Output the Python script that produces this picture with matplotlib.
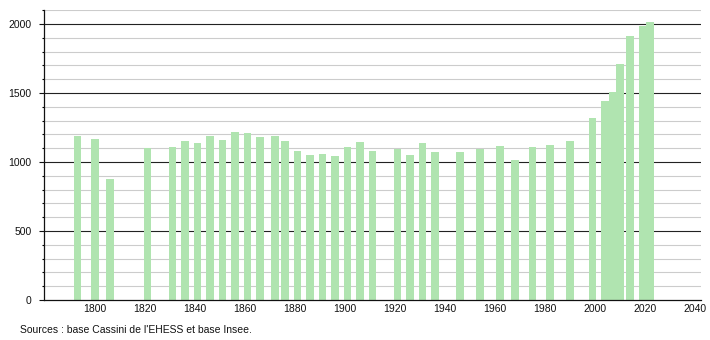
import matplotlib
matplotlib.use("Agg")
import matplotlib.pyplot as plt
import numpy as np

years = [1793, 1800, 1806, 1821, 1831, 1836, 1841, 1846, 1851, 1856, 1861, 1866,
         1872, 1876, 1881, 1886, 1891, 1896, 1901, 1906, 1911, 1921, 1926, 1931,
         1936, 1946, 1954, 1962, 1968, 1975, 1982, 1990, 1999, 2004, 2007, 2010,
         2014, 2019, 2022]
population = [1190, 1167, 877, 1099, 1109, 1152, 1135, 1190, 1162, 1215, 1210, 1184,
              1190, 1152, 1080, 1051, 1058, 1043, 1109, 1143, 1080, 1097, 1051, 1138,
              1072, 1072, 1094, 1116, 1014, 1109, 1126, 1152, 1322, 1443, 1511, 1712,
              1917, 1983, 2014]
x_ticks = [1800, 1820, 1840, 1860, 1880, 1900, 1920, 1940, 1960, 1980, 2000, 2020, 2040]
y_major = [0, 500, 1000, 1500, 2000]
source_text = "Sources : base Cassini de l'EHESS et base Insee."

plt.rcParams['font.family'] = ['Liberation Sans', 'DejaVu Sans']

W, H = 710, 340
fig = plt.figure(figsize=(W / 100, H / 100), dpi=100)
ax = fig.add_axes([44 / W, 1 - 300 / H, (701 - 44) / W, (300 - 10) / H])

ax.set_xlim(1779.6, 2042.4)
ax.set_ylim(0, 2102)

# grid lines
for v in range(100, 2101, 100):
    if v % 500 == 0:
        ax.axhline(v, color='#222222', lw=0.8, zorder=1)
    else:
        ax.axhline(v, color='#cccccc', lw=0.8, zorder=1)

ax.bar(years, population, width=3.0, color='#b0e4b0', edgecolor='none', zorder=2)

ax.set_xticks(x_ticks)
ax.set_xticklabels([str(t) for t in x_ticks])
ax.set_yticks(y_major)
ax.set_yticklabels([str(t) for t in y_major])
ax.set_yticks(np.arange(0, 2101, 100), minor=True)

ax.tick_params(axis='x', length=0, pad=3, labelsize=7.5, colors='#111111')
ax.tick_params(axis='y', which='major', length=3.8, width=0.8, pad=5, labelsize=7.5,
               direction='out', colors='#111111')
ax.tick_params(axis='y', which='minor', length=1.6, width=0.8, direction='out')
ax.tick_params(axis='x', which='minor', length=0)

for s in ['top', 'right']:
    ax.spines[s].set_visible(False)
for s in ['left', 'bottom']:
    ax.spines[s].set_color('#111111')
    ax.spines[s].set_linewidth(0.9)

fig.text(20 / W, 1 - 330 / H, source_text, fontsize=7.5, va='center', ha='left',
         color='#111111')

fig.savefig('out.png', dpi=100)
